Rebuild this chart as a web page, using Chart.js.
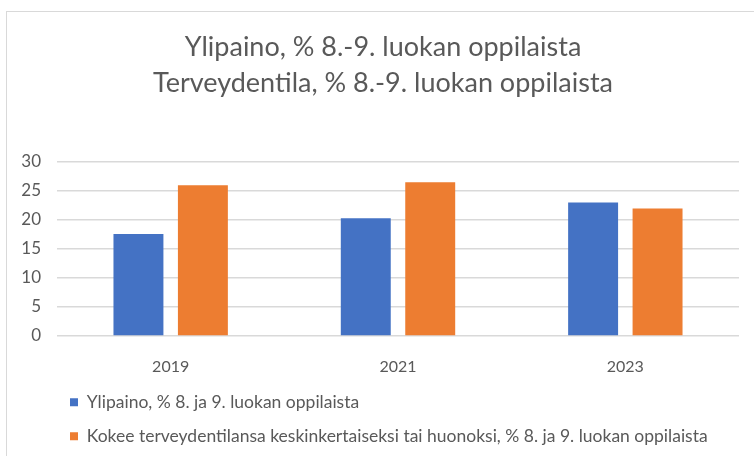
<!DOCTYPE html>
<html>
<head>
<meta charset="utf-8">
<script src="https://cdn.jsdelivr.net/npm/chart.js@4/dist/chart.umd.min.js"></script>
<style>
    html, body { margin: 0; padding: 0; background: #fff; overflow: hidden; }
    #wrap { position: relative; width: 754px; height: 456px; }
    #frame { position: absolute; left: 6px; top: 11px; width: 900px; height: 600px; border: 1px solid #d9d9d9; }
    canvas { position: absolute; left: 0; top: 0; }
</style>
</head>
<body>
<div id="wrap">
    <div id="frame"></div>
    <canvas id="myChart" width="754" height="456"></canvas>
</div>
<script>
const years = ['2019', '2021', '2023'];
const ylipaino = [17.6, 20.3, 23.0];
const terveydentila = [26.0, 26.5, 22.0];
const seriesNames = [
    'Ylipaino, % 8. ja 9. luokan oppilaista',
    'Kokee terveydentilansa keskinkertaiseksi tai huonoksi, % 8. ja 9. luokan oppilaista'
];
const titleLines = ['Ylipaino, % 8.-9. luokan oppilaista', 'Terveydentila, % 8.-9. luokan oppilaista'];
const yMin = 0;
const yMax = 30;
const yStep = 5;

const textColor = '#595959';
const fontFamily = 'Lato, "Open Sans", sans-serif';

// nudge legend to the right, and widen the y scale box so its labels are not clipped
const layoutTweaks = {
    id: 'layoutTweaks',
    afterLayout(chart) {
        chart.legend.left += 26.5;
        chart.scales.y.left = 0;
    }
};

const ctx = document.getElementById('myChart').getContext('2d');
const myChart = new Chart(ctx, {
    type: 'bar',
    data: {
        labels: years,
        datasets: [{
            label: seriesNames[0],
            data: ylipaino,
            backgroundColor: '#4472C4',
            categoryPercentage: 0.567,
            barPercentage: 0.775
        }, {
            label: seriesNames[1],
            data: terveydentila,
            backgroundColor: '#ED7D31',
            categoryPercentage: 0.567,
            barPercentage: 0.775
        }]
    },
    options: {
        responsive: false,
        animation: false,
        layout: {
            padding: { left: 27, right: 15, top: 0, bottom: 1 }
        },
        scales: {
            x: {
                grid: { display: false },
                border: { display: false },
                ticks: {
                    color: textColor,
                    font: { family: fontFamily, size: 16 },
                    padding: 13
                },
                afterFit: (scale) => { scale.height = 41; }
            },
            y: {
                min: yMin,
                max: yMax,
                grid: { color: '#d9d9d9', lineWidth: 1.5, drawTicks: false },
                border: { display: false },
                ticks: {
                    stepSize: yStep,
                    color: textColor,
                    font: { family: fontFamily, size: 17 },
                    padding: 16
                },
                afterFit: (scale) => { scale.width = 30; }
            }
        },
        plugins: {
            title: {
                display: true,
                text: titleLines,
                color: textColor,
                font: { family: fontFamily, size: 27, weight: 'normal', lineHeight: 1.3333 },
                padding: { top: 29, bottom: 61 }
            },
            legend: {
                display: true,
                position: 'bottom',
                align: 'start',
                labels: {
                    color: textColor,
                    font: { family: fontFamily, size: 17.5 },
                    boxWidth: 8,
                    boxHeight: 8,
                    padding: 16.5
                }
            },
            tooltip: { enabled: false }
        }
    },
    plugins: [layoutTweaks]
});
</script>
</body>
</html>
